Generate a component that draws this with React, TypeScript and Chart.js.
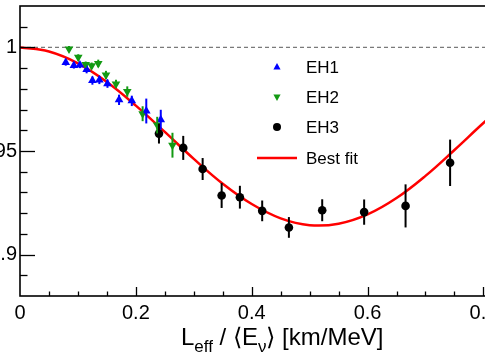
import React, { useEffect, useRef } from "react";
import { Chart, registerables } from "chart.js";

Chart.register(...registerables);

// ---- data ----
const FIT_X = [0, 0.05, 0.1, 0.15, 0.2, 0.25, 0.3, 0.35, 0.4, 0.45, 0.5, 0.55, 0.6, 0.65, 0.7, 0.75, 0.8, 0.85];
const FIT_Y = [1.0, 0.998, 0.9923, 0.9833, 0.9719, 0.9592, 0.9462, 0.9342, 0.9244, 0.9175, 0.9142, 0.9149, 0.9194, 0.9273, 0.938, 0.9505, 0.9635, 0.9759];

const EH1_X = [0.079, 0.093, 0.1035, 0.115, 0.125, 0.137, 0.151, 0.171, 0.193, 0.218, 0.243];
const EH1_Y = [0.9927, 0.9913, 0.9915, 0.9893, 0.984, 0.9843, 0.9825, 0.9747, 0.9742, 0.9693, 0.9651];
const EH1_ERR = [0.0015, 0.0015, 0.0015, 0.0018, 0.002, 0.002, 0.002, 0.0025, 0.0025, 0.006, 0.0048];

const EH2_X = [0.0846, 0.1006, 0.1134, 0.1237, 0.1351, 0.1484, 0.1657, 0.1852, 0.2117, 0.2369, 0.2632];
const EH2_Y = [0.9992, 0.9952, 0.9917, 0.9912, 0.9923, 0.9867, 0.9824, 0.9787, 0.968, 0.9625, 0.9528];
const EH2_ERR = [0.0015, 0.0015, 0.0015, 0.0015, 0.0018, 0.002, 0.002, 0.0025, 0.0036, 0.004, 0.006];

const EH3_X = [0.2399, 0.2818, 0.3153, 0.3481, 0.3796, 0.4181, 0.4642, 0.5217, 0.5941, 0.6656, 0.7425];
const EH3_Y = [0.9584, 0.9515, 0.9413, 0.9285, 0.9277, 0.9211, 0.9131, 0.9214, 0.9205, 0.9235, 0.9443];
const EH3_ERR = [0.0048, 0.0058, 0.0053, 0.006, 0.0055, 0.005, 0.005, 0.0053, 0.0061, 0.0104, 0.0112];

const X_TICKS = [0, 0.2, 0.4, 0.6, 0.8];
const Y_TICKS = [0.9, 0.95, 1];
const LEGEND_LABELS = ["EH1", "EH2", "EH3", "Best fit"];

const X_MIN = 0;
const X_MAX = 0.82;
const Y_MIN = 0.88;
const Y_MAX = 1.02;

const BLUE = "#0000ff";
const GREEN = "#139a13";
const BLACK = "#000000";
const RED = "#ff0000";
const FONT = "'Liberation Sans', Arial, Helvetica, sans-serif";

const SHIFT = 60; // canvas shifted left so axis labels are cropped like the reference
const CW = 575;
const CH = 360;

function pts(xs: number[], ys: number[]) {
  return xs.map((x, i) => ({ x, y: ys[i] }));
}

const decoPlugin = {
  id: "deco",
  afterDatasetsDraw(chart: any) {
    const { ctx, chartArea: a, scales } = chart;
    const xs = scales.x;
    const ys = scales.y;
    ctx.save();

    // error bars
    const sets: [number[], number[], number[], string][] = [
      [EH1_X, EH1_Y, EH1_ERR, BLUE],
      [EH2_X, EH2_Y, EH2_ERR, GREEN],
      [EH3_X, EH3_Y, EH3_ERR, BLACK],
    ];
    ctx.lineWidth = 2;
    for (const [X, Y, E, c] of sets) {
      ctx.strokeStyle = c;
      for (let i = 0; i < X.length; i++) {
        const px = xs.getPixelForValue(X[i]);
        ctx.beginPath();
        ctx.moveTo(px, ys.getPixelForValue(Y[i] - E[i]));
        ctx.lineTo(px, ys.getPixelForValue(Y[i] + E[i]));
        ctx.stroke();
      }
    }

    // frame
    ctx.strokeStyle = "#000";
    ctx.lineWidth = 1.6;
    ctx.strokeRect(a.left, a.top, a.right - a.left, a.bottom - a.top);

    // inward ticks
    ctx.lineWidth = 1.3;
    for (let k = 1; k <= 13; k++) {
      const v = Y_MIN + k * 0.01;
      const major = Y_TICKS.some((t) => Math.abs(t - v) < 1e-6);
      const py = Math.round(ys.getPixelForValue(v)) + 0.5;
      ctx.beginPath();
      ctx.moveTo(a.left, py);
      ctx.lineTo(a.left + (major ? 15 : 7.5), py);
      ctx.stroke();
    }
    for (let k = 1; k <= 16; k++) {
      const v = k * 0.05;
      const major = X_TICKS.some((t) => Math.abs(t - v) < 1e-6);
      const px = Math.round(xs.getPixelForValue(v)) + 0.5;
      ctx.beginPath();
      ctx.moveTo(px, a.bottom);
      ctx.lineTo(px, a.bottom - (major ? 9 : 4.5));
      ctx.stroke();
    }

    // legend
    const lx = a.left + 257;
    const rows = [a.top + 61, a.top + 91, a.top + 121, a.top + 152];
    ctx.fillStyle = BLUE;
    ctx.beginPath();
    ctx.moveTo(lx, rows[0] - 4);
    ctx.lineTo(lx + 3.6, rows[0] + 2.6);
    ctx.lineTo(lx - 3.6, rows[0] + 2.6);
    ctx.closePath();
    ctx.fill();
    ctx.fillStyle = GREEN;
    ctx.beginPath();
    ctx.moveTo(lx, rows[1] + 4);
    ctx.lineTo(lx + 3.6, rows[1] - 2.6);
    ctx.lineTo(lx - 3.6, rows[1] - 2.6);
    ctx.closePath();
    ctx.fill();
    ctx.fillStyle = BLACK;
    ctx.beginPath();
    ctx.arc(lx, rows[2], 4, 0, Math.PI * 2);
    ctx.fill();
    ctx.strokeStyle = RED;
    ctx.lineWidth = 2.5;
    ctx.beginPath();
    ctx.moveTo(lx - 20, rows[3]);
    ctx.lineTo(lx + 20, rows[3]);
    ctx.stroke();

    ctx.fillStyle = "#000";
    ctx.font = `17px ${FONT}`;
    ctx.textBaseline = "middle";
    ctx.textAlign = "left";
    LEGEND_LABELS.forEach((t, i) => ctx.fillText(t, lx + 29, rows[i] + 1));

    // x-axis title with subscripts
    const big = `24px ${FONT}`;
    const small = `17px ${FONT}`;
    const parts: [string, boolean][] = [
      ["L", false],
      ["eff", true],
      [" / \u27E8E", false],
      ["\u03BD", true],
      ["\u27E9 [km/MeV]", false],
    ];
    let tx = a.left + 161;
    const base = 345;
    ctx.textBaseline = "alphabetic";
    for (const [s, sub] of parts) {
      ctx.font = sub ? small : big;
      ctx.fillText(s, tx, sub ? base + 7 : base);
      tx += ctx.measureText(s).width;
    }

    ctx.restore();
  },
};

export default function App() {
  const ref = useRef<HTMLCanvasElement | null>(null);

  useEffect(() => {
    if (!ref.current) return;
    const chart = new Chart(ref.current, {
      type: "scatter",
      data: {
        datasets: [
          {
            label: "EH1",
            data: pts(EH1_X, EH1_Y),
            pointStyle: "triangle",
            pointRadius: 5,
            backgroundColor: BLUE,
            borderColor: BLUE,
            borderWidth: 0,
            order: 0,
          } as any,
          {
            label: "EH2",
            data: pts(EH2_X, EH2_Y),
            pointStyle: "triangle",
            rotation: 180,
            pointRadius: 5,
            backgroundColor: GREEN,
            borderColor: GREEN,
            borderWidth: 0,
            order: 0,
          } as any,
          {
            label: "EH3",
            data: pts(EH3_X, EH3_Y),
            pointStyle: "circle",
            pointRadius: 4.3,
            backgroundColor: BLACK,
            borderColor: BLACK,
            borderWidth: 0,
            order: 0,
          } as any,
          {
            type: "line",
            label: "Best fit",
            data: pts(FIT_X, FIT_Y),
            borderColor: RED,
            borderWidth: 2.5,
            pointRadius: 0,
            tension: 0.4,
            fill: false,
            order: 1,
          } as any,
          {
            type: "line",
            label: "unity",
            data: pts([X_MIN, X_MAX], [1, 1]),
            borderColor: "#7a7a7a",
            borderDash: [4, 3],
            borderWidth: 1.2,
            pointRadius: 0,
            fill: false,
            order: 2,
          } as any,
        ],
      },
      options: {
        animation: false,
        responsive: false,
        devicePixelRatio: 1,
        layout: { padding: { left: 0, top: 6, right: 20, bottom: 0 } },
        plugins: { legend: { display: false }, tooltip: { enabled: false } },
        scales: {
          x: {
            type: "linear",
            min: X_MIN,
            max: X_MAX,
            grid: { display: false, drawTicks: false },
            border: { display: false },
            afterBuildTicks: (s: any) => {
              s.ticks = X_TICKS.map((v) => ({ value: v }));
            },
            afterFit: (s: any) => {
              s.height = 64;
              s.paddingLeft = 0;
              s.paddingRight = 0;
            },
            ticks: {
              autoSkip: false,
              maxRotation: 0,
              padding: 5,
              color: "#000",
              font: { family: FONT, size: 20 },
              callback: (v: any) => String(v),
            },
          },
          y: {
            type: "linear",
            min: Y_MIN,
            max: Y_MAX,
            grid: { display: false, drawTicks: false },
            border: { display: false },
            afterBuildTicks: (s: any) => {
              s.ticks = Y_TICKS.map((v) => ({ value: v }));
            },
            afterFit: (s: any) => {
              s.width = 80;
              s.paddingTop = 0;
              s.paddingBottom = 0;
            },
            ticks: {
              padding: 3,
              color: "#000",
              font: { family: FONT, size: 20 },
              callback: (v: any) => String(v),
            },
          },
        },
      } as any,
      plugins: [decoPlugin],
    });
    return () => chart.destroy();
  }, []);

  return (
    <div
      style={{
        position: "fixed",
        left: 0,
        top: 0,
        width: 485,
        height: 360,
        overflow: "hidden",
        background: "#fff",
      }}
    >
      <div style={{ position: "absolute", left: -SHIFT, top: 0, width: CW, height: CH }}>
        <canvas ref={ref} width={CW} height={CH} style={{ width: CW, height: CH, display: "block" }} />
      </div>
    </div>
  );
}
